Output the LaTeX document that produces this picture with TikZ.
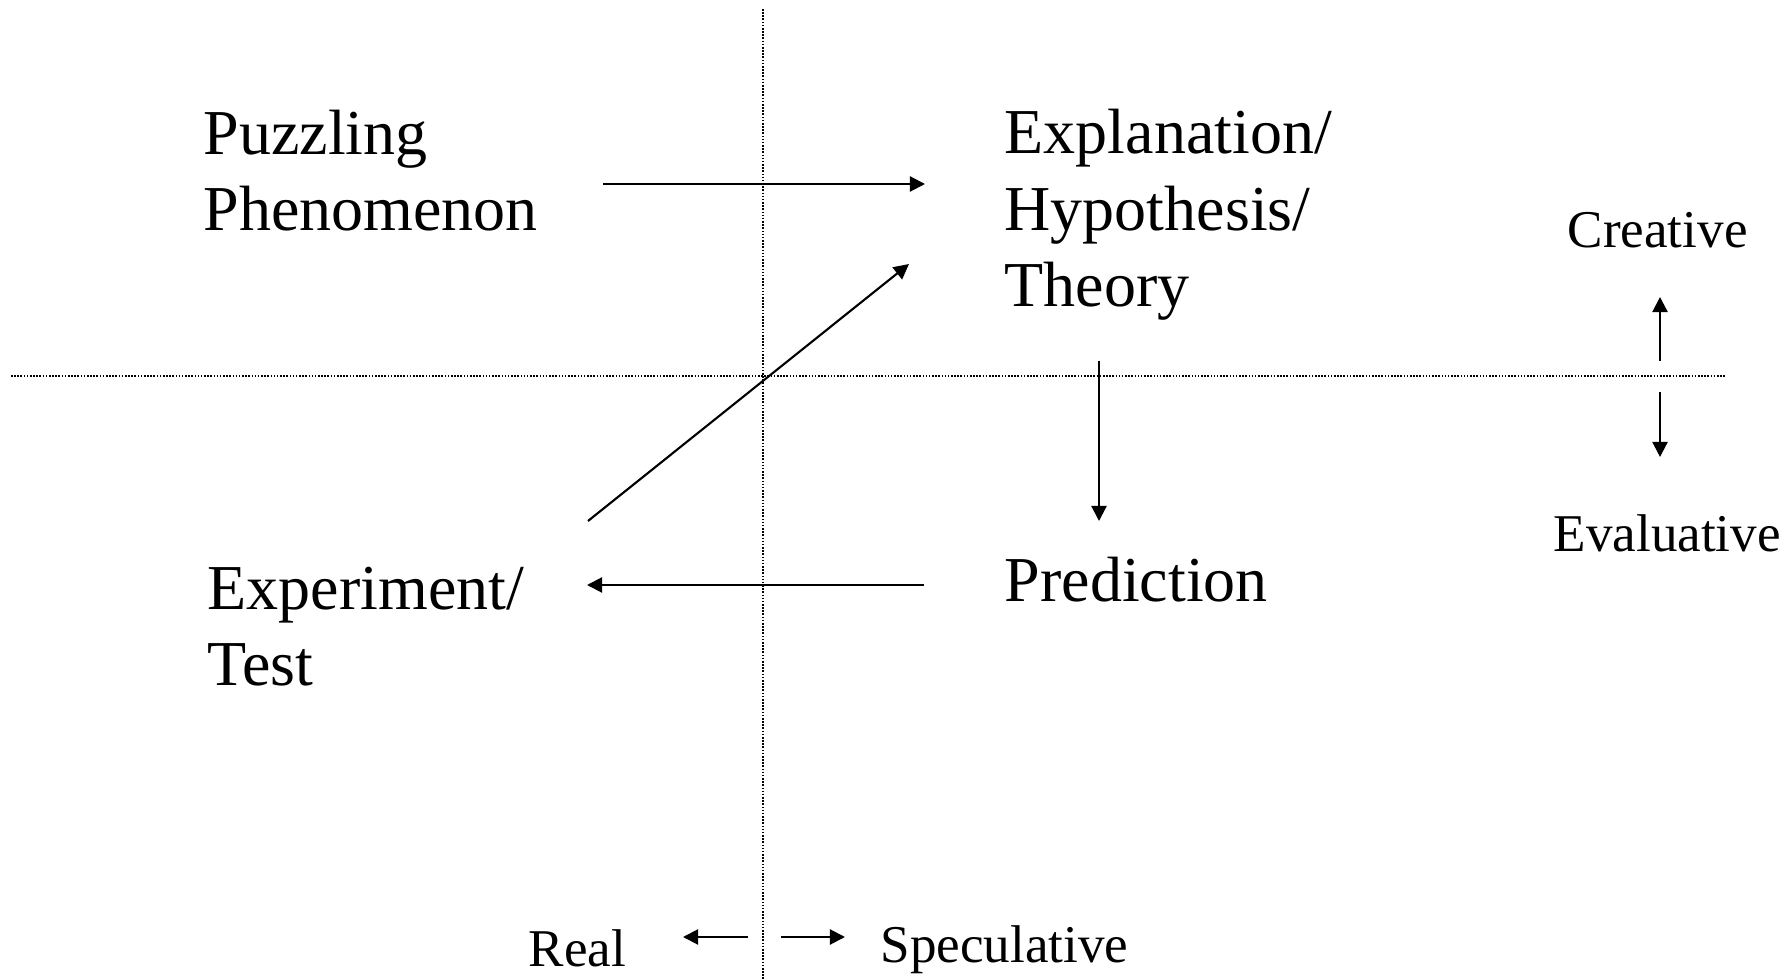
\documentclass[tikz,border=0pt]{standalone}
\usepackage{fontspec}
\setmainfont{Liberation Serif}
\usetikzlibrary{arrows.meta}

\begin{document}
\begin{tikzpicture}[x=0.01cm,y=-0.01cm,
  big/.style={anchor=base west,inner sep=0pt,align=left,font=\fontsize{18.2}{21.8}\selectfont},
  small/.style={anchor=base west,inner sep=0pt,font=\fontsize{15.1}{18}\selectfont},
  arr/.style={-{Triangle[length=4.3pt,width=4.3pt]},line width=0.6pt},
  quadrant/.style={line width=0.35pt,dash pattern=on 0.45pt off 0.45pt}]
\useasboundingbox (0,0) rectangle (1791,980);
% dotted axes
\coordinate (vtop) at (763,9);
\coordinate (vbot) at (763,980);
\coordinate (hleft) at (11,376);
\coordinate (hright) at (1725,376);
\draw[quadrant] (vtop) -- (vbot);
\draw[quadrant] (hleft) -- (hright);
% the four stages (base = last line)
\node[big] (puzzling) at (203,231) {Puzzling\\Phenomenon};
\node[big] (theory) at (1004,307) {Explanation/\\Hypothesis/\\Theory};
\node[big] (prediction) at (1004,602) {Prediction};
\node[big] (experiment) at (207,686) {Experiment/\\Test};
% side labels
\node[small] (creative) at (1567,248) {Creative};
\node[small] (evaluative) at (1553,552) {Evaluative};
\node[small] (real) at (528,966) {Real};
\node[small] (speculative) at (880,962) {Speculative};
% arrow ends
\coordinate (p1) at (603,184);  \coordinate (t1) at (925,184);
\coordinate (e1) at (588,521);  \coordinate (t2) at (909,264);
\coordinate (t3) at (1099,361); \coordinate (r1) at (1099,521);
\coordinate (r2) at (924,585);  \coordinate (e2) at (587,585);
\draw[arr] (p1) -- (t1);
\draw[arr] (e1) -- (t2);
\draw[arr] (t3) -- (r1);
\draw[arr] (r2) -- (e2);
% direction arrows
\coordinate (c1) at (1660,361); \coordinate (c2) at (1660,297);
\coordinate (v1) at (1660,392); \coordinate (v2) at (1660,457);
\coordinate (l1) at (748,937);  \coordinate (l2) at (683,937);
\coordinate (s1) at (781,937);  \coordinate (s2) at (845,937);
\draw[arr] (c1) -- (c2);
\draw[arr] (v1) -- (v2);
\draw[arr] (l1) -- (l2);
\draw[arr] (s1) -- (s2);
\end{tikzpicture}
\end{document}
